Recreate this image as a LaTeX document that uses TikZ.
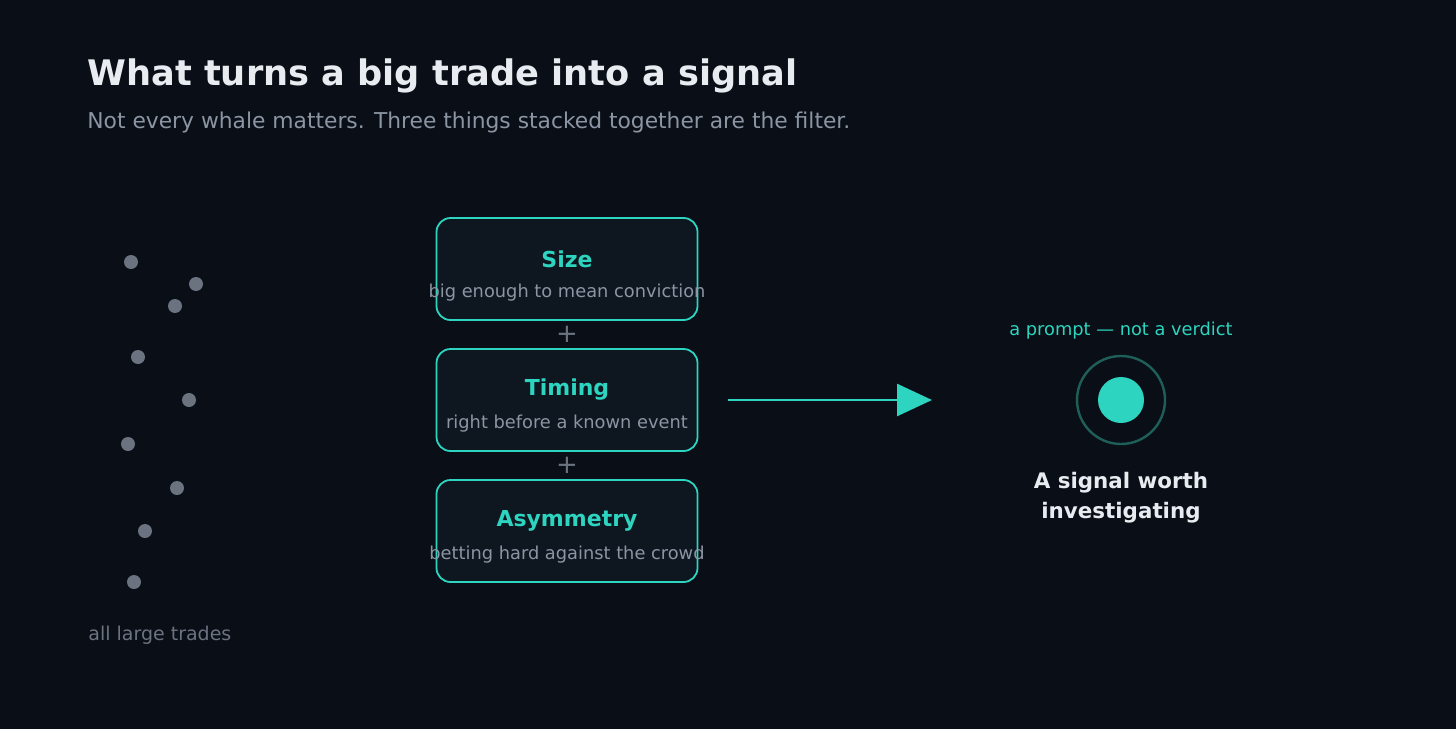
\documentclass[tikz,border=0pt]{standalone}
\usepackage{fontspec}
\setmainfont{DejaVu Sans}
\usetikzlibrary{arrows.meta}
\definecolor{bg}{HTML}{0A0E16}
\definecolor{boxfill}{HTML}{0E1620}
\definecolor{teal}{HTML}{2DD4BF}
\definecolor{dimteal}{HTML}{1F5F5A}
\definecolor{dotgrey}{HTML}{6B7280}
\definecolor{subgrey}{HTML}{8B95A3}
\definecolor{titlewhite}{HTML}{E8ECF1}
\tikzset{
  filterbox/.style={draw=teal, fill=boxfill, rounded corners=7pt, line width=0.9pt,
    minimum width=130.5pt, minimum height=51pt},
  boxtitle/.style={text=teal, font=\bfseries\fontsize{11}{13}\selectfont},
  boxsub/.style={text=subgrey, font=\fontsize{8.9}{10}\selectfont},
  plus/.style={text=dotgrey, font=\fontsize{13}{15}\selectfont},
  trade/.style={circle, fill=dotgrey, inner sep=0pt, minimum size=7pt}
}
\begin{document}
\begin{tikzpicture}[x=0.5pt,y=-0.5pt]
  \useasboundingbox (0,0) rectangle (1456,728);
  \fill[bg] (-4,-4) rectangle (1460,732);
  % heading
  \node[anchor=base west, inner sep=0pt, text=titlewhite, font=\bfseries\fontsize{17.6}{21}\selectfont] (title) at (87,85) {What turns a big trade into a signal};
  \node[anchor=base west, inner sep=0pt, text=subgrey, font=\fontsize{10.9}{12}\selectfont] (subtitle) at (87,128) {Not every whale matters. Three things stacked together are the filter.};
  % all trades
  \foreach \x/\y [count=\i] in {131/262, 196/284, 175/306, 138/357, 189/400, 128/444, 177/488, 145/531, 134/582}
    \node[trade] (t\i) at (\x,\y) {};
  \node[anchor=base west, inner sep=0pt, text=dotgrey, font=\fontsize{9.5}{11}\selectfont] (alllabel) at (88,640) {all large trades};
  % filters
  \node[filterbox] (size) at (567,269) {};
  \node[boxtitle] at (567,259) {Size};
  \node[boxsub] at (567,293) {big enough to mean conviction};
  \node[plus] (p1) at (567,334) {+};
  \node[filterbox] (timing) at (567,400) {};
  \node[boxtitle] at (567,390) {Timing};
  \node[boxsub] at (567,424) {right before a known event};
  \node[plus] (p2) at (567,465) {+};
  \node[filterbox] (asym) at (567,531) {};
  \node[boxtitle] at (567,521) {Asymmetry};
  \node[boxsub] at (567,555) {betting hard against the crowd};
  % result
  \coordinate (arrowstart) at (728,400);
  \node[circle, draw=dimteal, line width=1.2pt, minimum size=44pt, inner sep=0pt] (signal) at (1121,400) {};
  \node[circle, fill=teal, minimum size=23pt, inner sep=0pt] (core) at (1121,400) {};
  \coordinate (arrowend) at (932,400);
  \draw[teal, line width=1.3pt, -{Triangle[length=17.5pt,width=16pt]}] (arrowstart) -- (arrowend);
  \node[text=teal, font=\fontsize{8.9}{10}\selectfont] (prompt) at (1121,331) {a prompt — not a verdict};
  \node[text=titlewhite, align=center, font=\bfseries\fontsize{10.7}{15}\selectfont] (verdict) at (1121,498) {A signal worth\\investigating};
\end{tikzpicture}
\end{document}
